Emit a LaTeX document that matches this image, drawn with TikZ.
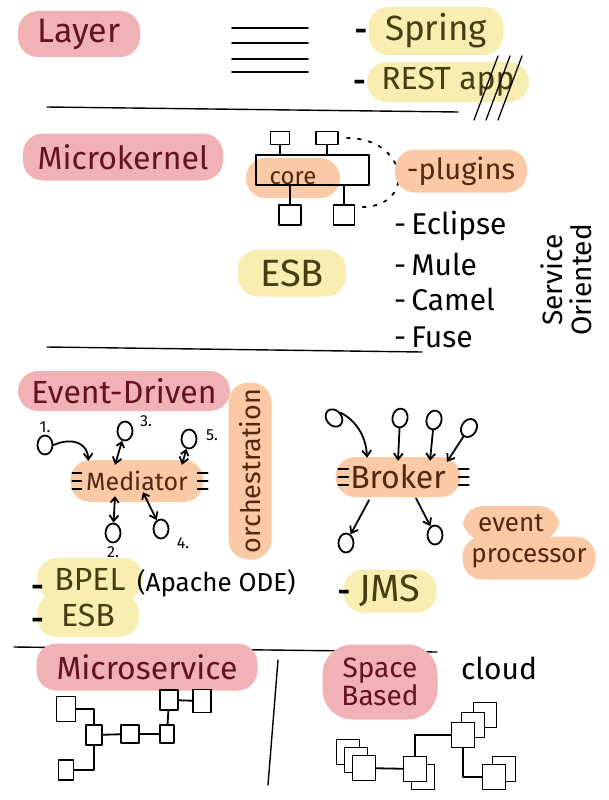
\documentclass[tikz,border=0pt]{standalone}
\usepackage{fontspec}
\setmainfont{Fira Sans}
\usetikzlibrary{arrows.meta,positioning,shapes.geometric}

\definecolor{blobpink}{RGB}{240,178,180}
\definecolor{blobyellow}{RGB}{249,238,178}
\definecolor{bloborange}{RGB}{250,201,166}
\definecolor{inkred}{RGB}{100,18,28}
\definecolor{inkolive}{RGB}{70,62,18}
\definecolor{inkbrown}{RGB}{85,38,14}

\begin{document}
\begin{tikzpicture}[x=1pt, y=1pt, line cap=round, line join=round,
    blob/.style={rounded corners=20pt, inner sep=0pt},
    pinkblob/.style={blob, fill=blobpink, text=inkred},
    yellowblob/.style={blob, fill=blobyellow, text=inkolive},
    orangeblob/.style={blob, fill=bloborange, text=inkbrown},
    pen/.style={line width=1.8pt},
    sqbox/.style={draw, pen, fill=white, inner sep=0pt},
    ev/.style={draw, pen, ellipse, inner sep=0pt, minimum width=15pt, minimum height=19pt},
    evarrow/.style={pen, -{Straight Barb[length=6pt,width=9pt]}},
    twoway/.style={pen, {Straight Barb[length=5pt,width=8pt]}-{Straight Barb[length=6pt,width=9pt]}},
    dashmark/.style={inner sep=0pt, font=\handsize{30}\bfseries},
    numlabel/.style={inner sep=0pt, font=\handsize{16}}]

        \newcommand\handsize[1]{\fontsize{#1}{#1}\selectfont}

        \fill[white] (0,0) rectangle (609,-800);
        \useasboundingbox (0,0) rectangle (609,-800);

        % Layer
        \node[pinkblob, minimum width=122pt, minimum height=46pt, font=\handsize{34}] (layer) at (79,-34) {Layer};
        \foreach \y in {28,43,59,72}
            \draw[pen] (232,-\y) -- (308,-\y);

        \node[yellowblob, minimum width=135pt, minimum height=48pt, font=\handsize{35}] (spring) at (436,-31) {Spring};
        \node[dashmark, left=1pt of spring, yshift=-4pt] (springdash) {-};
        \node[yellowblob, minimum width=162pt, minimum height=40pt, font=\handsize{32}] (rest) at (448,-82) {REST app};
        \node[dashmark, left=1pt of rest, yshift=-4pt] (restdash) {-};
        \foreach \dx in {0,12,24}
            \draw[line width=1.3pt] (474+\dx,-120) -- (498+\dx,-56);

        \draw[line width=1.4pt] (47,-107) -- (458,-112);

        % Microkernel
        \node[pinkblob, minimum width=200pt, minimum height=47pt, font=\handsize{32}] (microkernel) at (123,-157) {Microkernel};
        \node[orangeblob, minimum width=94pt, minimum height=40pt, font=\handsize{24}] (core) at (293,-178) {core};
        \node[draw, pen, minimum width=113pt, minimum height=30pt] (kernel) at (312.5,-170) {};

        \foreach \name/\x/\y/\w/\h in {plugA/280/138/19/13, plugB/327/138/22/13, plugC/290/215/22/20, plugD/344/215/21/20}
            \node[sqbox, minimum width=\w pt, minimum height=\h pt] (\name) at (\x,-\y) {};
        \draw[pen] (plugA) -- (plugA |- kernel.north);
        \draw[pen] (plugB) -- (plugB |- kernel.north);
        \draw[pen] (plugC) -- (plugC |- kernel.south);
        \draw[pen] (plugD) -- (plugD |- kernel.south);
        \draw[pen, dash pattern=on 3pt off 8pt] ([xshift=8pt]plugB.east) .. controls (408,-138) and (417,-206) .. ([xshift=7pt,yshift=-3pt]plugD.north east);

        \node[orangeblob, minimum width=132pt, minimum height=43pt, font=\handsize{29}] (plugins) at (461,-171) {-plugins};
        \foreach \name/\y/\txt in {eclipse/226/Eclipse, mule/264/Mule, camel/299/Camel, fuse/337/Fuse}
            \node[anchor=west, inner sep=0pt, font=\handsize{30}] (\name) at (394,-\y) {-\,\txt};
        \node[rotate=90, align=center, inner sep=0pt, font={\fontsize{28}{29}\selectfont}] (soa) at (566,-280) {Service\\Oriented};

        \node[yellowblob, minimum width=108pt, minimum height=47pt, font=\handsize{38}] (esbtop) at (292,-273) {ESB};

        \draw[line width=1.4pt] (47,-347) -- (422,-352);

        % Event-Driven
        \node[pinkblob, minimum width=212pt, minimum height=40pt, font=\handsize{32}] (eventdriven) at (124,-391) {Event-Driven};
        \node[orangeblob, rotate=90, minimum width=177pt, minimum height=43pt, font=\handsize{27}] (orchestration) at (250,-471) {orchestration};

        \node[orangeblob, minimum width=133pt, minimum height=42pt, font=\handsize{25}] (mediator) at (137,-481) {Mediator};
        \node[orangeblob, minimum width=125pt, minimum height=40pt, font=\handsize{32}] (broker) at (398,-477) {Broker};
        \foreach \y in {-8,0,8} {
            \draw[pen] ([xshift=2pt,yshift=\y pt]mediator.west) -- ++(9,0);
            \draw[pen] ([xshift=-6pt,yshift=\y pt]mediator.east) -- ++(10,0);
            \draw[pen] ([xshift=3pt,yshift=\y pt]broker.west) -- ++(10,0);
            \draw[pen] ([xshift=-2pt,yshift=\y pt]broker.east) -- ++(10,0);
        }

        % mediator topology
        \foreach \name/\x/\y in {mA/45/445, mB/113/533, mC/125/431, mD/161/529, mE/189/439}
            \node[ev] (\name) at (\x,-\y) {};
        \node[numlabel, above=2pt of mA] (numA) {1.};
        \node[numlabel, below=3pt of mB] (numB) {2.};
        \node[numlabel] (numC) at (146,-421) {3.};
        \node[numlabel] (numD) at (183,-543) {4.};
        \node[numlabel] (numE) at (212,-435) {5.};

        \draw[evarrow] (mA.east) .. controls (75,-436) and (88,-445) .. ([xshift=18pt,yshift=-1pt]mediator.north west);
        \draw[twoway] (mC) -- ([xshift=-22pt,yshift=-5pt]mediator.north);
        \draw[twoway] (mE) -- ([xshift=45pt,yshift=-5pt]mediator.north);
        \draw[twoway] ([xshift=-22pt,yshift=6pt]mediator.south) -- (mB);
        \draw[twoway] ([xshift=6pt,yshift=10pt]mediator.south) -- (mD);

        % broker topology
        \foreach \name/\x/\y/\a in {bA/334/418/40, bB/400/418/-10, bC/434/420/-15, bD/469/428/-30}
            \node[ev, rotate=\a] (\name) at (\x,-\y) {};
        \node[ev] (bE) at (346,-543) {};
        \node[ev] (bF) at (435,-535) {};

        \draw[evarrow] (bA.east) .. controls (355,-420) and (366,-435) .. ([xshift=-31pt,yshift=-1pt]broker.north);
        \draw[evarrow] (bB) -- ([yshift=-4pt]broker.north);
        \draw[evarrow] (bC) -- ([xshift=32pt,yshift=-4pt]broker.north);
        \draw[evarrow] (bD) -- ([xshift=49pt,yshift=-5pt]broker.north);
        \draw[evarrow] ([xshift=-29pt,yshift=-3pt]broker.south) -- (bE);
        \draw[evarrow] ([xshift=18pt,yshift=-1pt]broker.south) -- (bF);

        \node[orangeblob, minimum width=96pt, minimum height=34pt, font=\handsize{26}] (event) at (511,-523) {event};
        \node[orangeblob, minimum width=133pt, minimum height=43pt, font=\handsize{26}] (processor) at (529,-558) {processor};

        % products
        \node[yellowblob, minimum width=102pt, minimum height=44pt, font=\handsize{32}] (esbmid) at (88,-615) {ESB};
        \node[yellowblob, minimum width=106pt, minimum height=42pt, font=\handsize{32}] (bpel) at (90,-579) {BPEL};
        \node[dashmark, left=-7pt of bpel, yshift=-12pt] (bpeldash) {-};
        \node[dashmark, left=-7pt of esbmid, yshift=-9pt] (esbdash) {-};
        \node[anchor=west, inner sep=0pt, font=\handsize{26}] (apache) at (137,-583) {(Apache ODE)};

        \node[yellowblob, minimum width=93pt, minimum height=43pt, font=\handsize{38}] (jms) at (390,-591) {JMS};
        \node[dashmark, left=-7pt of jms, yshift=-5pt] (jmsdash) {-};

        \draw[line width=1.4pt] (14,-647) -- (437,-652);
        \draw[line width=1.4pt] (278,-660) -- (268,-785);

        % Microservice
        \node[pinkblob, minimum width=221pt, minimum height=47pt, font=\handsize{32}] (microservice) at (147,-667) {Microservice};
        \foreach \name/\x/\y/\w/\h in {msA/66/709/19/25, msB/94/735/16/20, msC/130/734/18/18, msD/167/734/14/18, msE/169/700/18/20, msF/202/701/18/23, msG/66/770/15/20}
            \node[sqbox, minimum width=\w pt, minimum height=\h pt] (\name) at (\x,-\y) {};
        \draw[pen] (msA.east) -| (msB.north);
        \draw[pen] (msB) -- (msC);
        \draw[pen] (msC) -- (msD);
        \draw[pen] (msD) -- (msE);
        \draw[pen] (msE) -- (msF);
        \draw[pen] (msB.south) |- (msG.east);

        % Space Based
        \node[pinkblob, rounded corners=30pt, align=center, minimum width=115pt, minimum height=75pt, font={\fontsize{28}{28}\selectfont}] (spacebased) at (380,-682) {Space\\Based};
        \node[inner sep=0pt, font=\handsize{30}] (cloud) at (499,-668) {cloud};

        \foreach \x/\y in {348/752, 356/760, 423/777, 485/715, 473/725, 504/769}
            \node[sqbox, minimum width=23pt, minimum height=25pt] (copy\x) at (\x,-\y) {};
        \foreach \name/\x/\y in {spA/364/768, spB/415/769, spC/463/735, spD/494/777}
            \node[sqbox, minimum width=23pt, minimum height=25pt] (\name) at (\x,-\y) {};
        \draw[pen] (spA) -- (spB);
        \draw[pen] (spB.north) |- (spC.west);
        \draw[pen] (spC.south) |- (spD.west);

\end{tikzpicture}
\end{document}
